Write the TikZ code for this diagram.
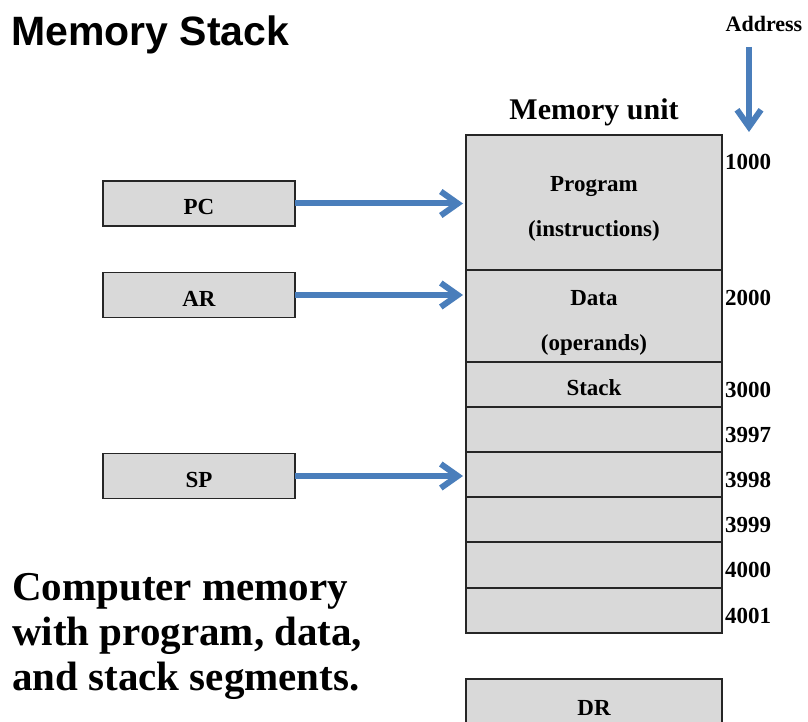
\documentclass[tikz,border=0pt]{standalone}
\usepackage{fontspec}
\setmainfont{Liberation Serif}
\newfontfamily\titlefont{Liberation Sans}
\usepackage{tikz}
\usetikzlibrary{positioning,arrows.meta}
\definecolor{ptrblue}{RGB}{74,126,187}
\definecolor{cellgray}{RGB}{217,217,217}
\tikzset{memcell/.style={rectangle,draw=black!85,fill=cellgray,line width=1.6pt,outer sep=0pt,
	   minimum width=256pt,align=center,text height=27pt,text depth=5pt,
	   font=\fontsize{23}{45}\selectfont\bfseries},
	 reg/.style={memcell,minimum width=192pt,minimum height=45pt},
	 addr/.style={anchor=base west,inner sep=0pt,font=\fontsize{23}{26}\selectfont\bfseries},
	 ptr/.style={draw=ptrblue,line width=6pt,-{Straight Barb[length=17pt,width=24pt]}},
	 node distance = 0pt
	 }

\begin{document}
\begin{tikzpicture}[x=1pt,y=-1pt] % memory stack
        \useasboundingbox (0,0) rectangle (808,722);
        \clip (0,0) rectangle (808,722);
        \node[anchor=base west,inner sep=0pt,font=\titlefont\fontsize{41}{45}\selectfont\bfseries] (title) at (11,46) {Memory Stack};
        \node[anchor=base,inner sep=0pt,font=\fontsize{22}{26}\selectfont\bfseries] (addrhead) at (764,32) {Address};
        \node[anchor=base,inner sep=0pt,font=\fontsize{30}{36}\selectfont\bfseries] (unit) at (594,120) {Memory unit};
        % memory unit
        \node[memcell,minimum height=135pt,text height=73pt] (m1) at (594,202.5) {Program\\(instructions)};
        \node[memcell,minimum height=92pt,text height=73pt] (m2) [below=of m1] {Data\\(operands)};
        \node[memcell,minimum height=45pt] (m3) [below=of m2] {Stack};
        \node[memcell,minimum height=45pt] (m4) [below=of m3] {};
        \node[memcell,minimum height=45pt] (m5) [below=of m4] {};
        \node[memcell,minimum height=45pt] (m6) [below=of m5] {};
        \node[memcell,minimum height=46pt] (m7) [below=of m6] {};
        \node[memcell,minimum height=45pt] (m8) [below=of m7] {};
        \node[memcell,minimum height=50pt] (dr) [below=46pt of m8] {DR};
        % addresses
        \node[addr] (a1) at ([xshift=3pt,yshift=-35pt]m1.north east) {1000};
        \node[addr] (a2) at ([xshift=3pt,yshift=-35pt]m2.north east) {2000};
        \node[addr] (a3) at ([xshift=3pt,yshift=-35pt]m3.north east) {3000};
        \node[addr] (a4) at ([xshift=3pt,yshift=-35pt]m4.north east) {3997};
        \node[addr] (a5) at ([xshift=3pt,yshift=-35pt]m5.north east) {3998};
        \node[addr] (a6) at ([xshift=3pt,yshift=-35pt]m6.north east) {3999};
        \node[addr] (a7) at ([xshift=3pt,yshift=-35pt]m7.north east) {4000};
        \node[addr] (a8) at ([xshift=3pt,yshift=-35pt]m8.north east) {4001};
        % registers
        \node[reg] (pc) at (199,203.5) {PC};
        \node[reg] (ar) at (199,295) {AR};
        \node[reg] (sp) at (199,476) {SP};
        \draw[ptr,shorten >=3pt] (pc) -- (pc -| m1.west);
        \draw[ptr,shorten >=3pt] (ar) -- (ar -| m2.west);
        \draw[ptr,shorten >=3pt] (sp) -- (sp -| m5.west);
        \coordinate (atop) at (749,47);
        \coordinate (abot) at (749,132);
        \draw[ptr] (atop) -- (abot);
        \node[anchor=west,align=left,inner sep=0pt,font=\fontsize{41}{45}\selectfont\bfseries] (caption) at (12,636)
           {Computer memory\\with program, data,\\and stack segments.};
     \end{tikzpicture}
\end{document}
